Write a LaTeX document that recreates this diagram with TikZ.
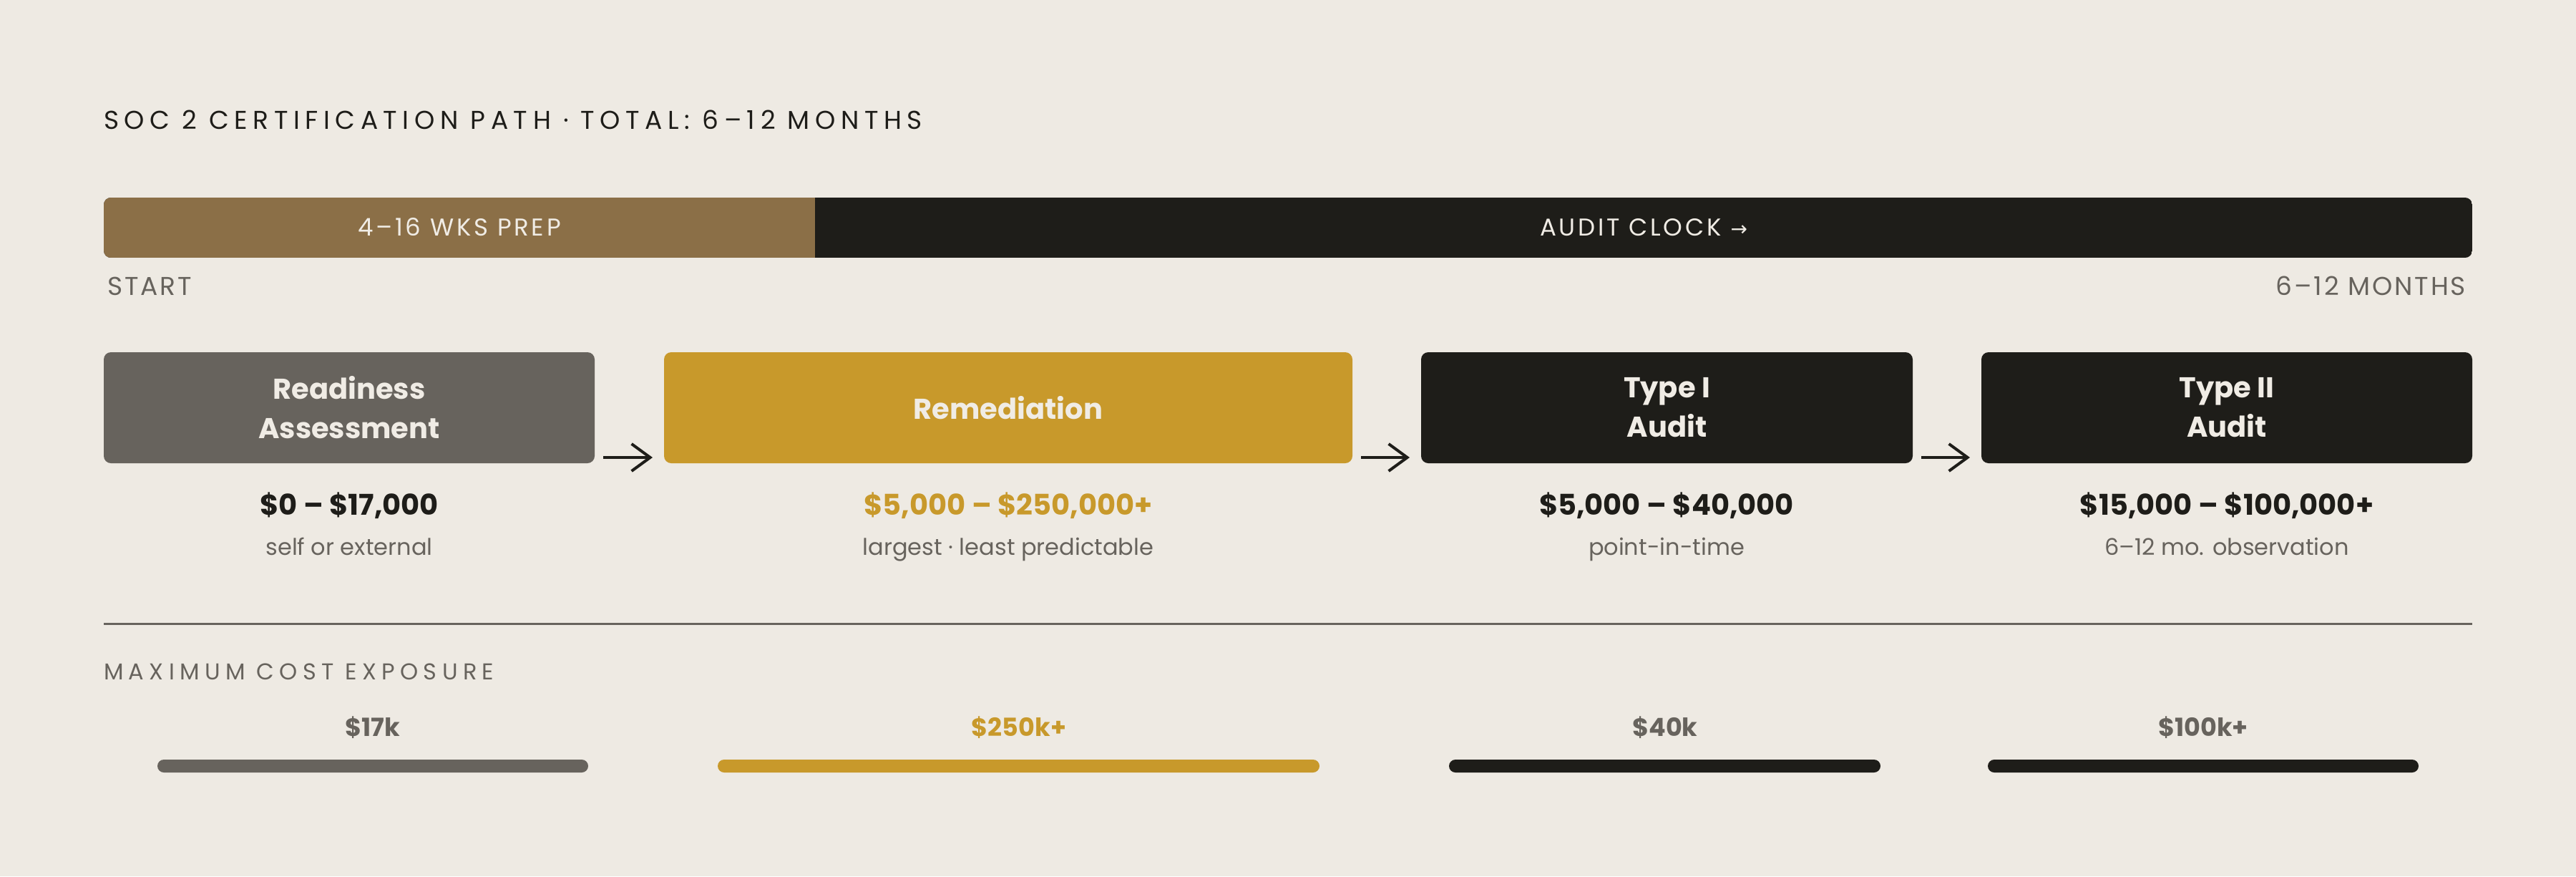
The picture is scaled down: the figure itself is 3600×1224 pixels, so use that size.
\documentclass[tikz,border=0pt]{standalone}
\usepackage{fontspec}
\setmainfont{Poppins}
\newfontfamily\trackA[LetterSpace=21]{Poppins}
\newfontfamily\trackM[LetterSpace=23]{Poppins}
\newfontfamily\trackB[LetterSpace=8]{Poppins}
\newfontfamily\trackC[LetterSpace=11]{Poppins}
\newfontfamily\symfont{DejaVu Sans}
\usetikzlibrary{arrows.meta}
\definecolor{bg}{HTML}{EEEAE3}
\definecolor{slate}{HTML}{67635D}
\definecolor{gold}{HTML}{C8992B}
\definecolor{ink}{HTML}{1E1D19}
\definecolor{prep}{HTML}{8B6F47}
\definecolor{cream}{HTML}{F0ECE5}
\tikzset{
  txt/.style={inner sep=0pt, outer sep=0pt},
  titletxt/.style={txt, anchor=base west, text=ink, font=\trackA\fontsize{36}{40}\selectfont},
  bartxt/.style={txt, anchor=base, text=cream, font=\trackC\fontsize{34}{40}\selectfont},
  axistxt/.style={txt, text=slate, font=\trackB\fontsize{36}{40}\selectfont},
  stagebox/.style={txt, anchor=north west, rounded corners=10pt, minimum height=155pt,
     text=cream, align=center, font=\bfseries\fontsize{40}{55}\selectfont},
  price/.style={txt, anchor=base, font=\bfseries\fontsize{40}{48}\selectfont},
  sub/.style={txt, anchor=base, text=slate, font=\fontsize{32}{40}\selectfont},
  maxlbl/.style={txt, anchor=base, text=slate, font=\bfseries\fontsize{35}{40}\selectfont},
  flow/.style={draw=ink, line width=4pt, -{Straight Barb[length=26pt,width=38pt,line width=4pt]}},
}
\begin{document}
\begin{tikzpicture}[x=1pt,y=-1pt]
\useasboundingbox (0,0) rectangle (3600,1224);
\fill[bg] (0,0) rectangle (3600,1224);

% title
\node[titletxt] (title) at (145,180) {SOC 2 CERTIFICATION PATH · TOTAL: 6–12 MONTHS};

% timeline bar
\begin{scope}
\clip[rounded corners=10pt] (145,276) rectangle (3455,360);
\fill[ink] (145,276) rectangle (3455,360);
\fill[prep] (145,276) rectangle (1139,360);
\end{scope}
\node[bartxt] (preptxt) at (642,329) {4–16 WKS PREP};
\node[bartxt] (audittxt) at (2297,329) {AUDIT CLOCK {\symfont\fontsize{28}{30}\selectfont →}};
\node[axistxt, anchor=base west] (start) at (150,412) {START};
\node[axistxt, anchor=base east] (end) at (3446,412) {6–12 MONTHS};

% stage boxes
\node[stagebox, fill=slate, minimum width=686pt] (b1) at (145,492) {Readiness\\Assessment};
\node[stagebox, fill=gold, minimum width=962pt] (b2) at (928,492) {Remediation};
\node[stagebox, fill=ink, minimum width=687pt] (b3) at (1986,492) {Type I\\Audit};
\node[stagebox, fill=ink, minimum width=686pt] (b4) at (2769,492) {Type II\\Audit};

\draw[flow] ([xshift=12pt,yshift=8pt]b1.south east) -- ([xshift=-16pt,yshift=8pt]b2.south west);
\draw[flow] ([xshift=12pt,yshift=8pt]b2.south east) -- ([xshift=-16pt,yshift=8pt]b3.south west);
\draw[flow] ([xshift=12pt,yshift=8pt]b3.south east) -- ([xshift=-16pt,yshift=8pt]b4.south west);

% prices
\node[price, text=ink] (p1) at (488,719) {\$0 – \$17,000};
\node[price, text=gold] (p2) at (1409,719) {\$5,000 – \$250,000+};
\node[price, text=ink] (p3) at (2329,719) {\$5,000 – \$40,000};
\node[price, text=ink] (p4) at (3112,719) {\$15,000 – \$100,000+};

\node[sub] (s1) at (488,775) {self or external};
\node[sub] (s2) at (1409,775) {largest · least predictable};
\node[sub] (s3) at (2329,775) {point-in-time};
\node[sub] (s4) at (3112,775) {6–12 mo. observation};

% separator
\draw[slate, line width=3pt] (145,871) -- (3455,871);

\node[txt, text=slate, anchor=base west, font=\trackM\fontsize{32}{40}\selectfont] (maxhead) at (145,949) {MAXIMUM COST EXPOSURE};

% exposure bars
\fill[slate, rounded corners=9pt] (220,1061) rectangle (822,1079);
\fill[gold, rounded corners=9pt] (1003,1061) rectangle (1844,1079);
\fill[ink, rounded corners=9pt] (2025,1061) rectangle (2628,1079);
\fill[ink, rounded corners=9pt] (2778,1061) rectangle (3380,1079);

\node[maxlbl] (m1) at (521,1028) {\$17k};
\node[maxlbl, text=gold] (m2) at (1424,1028) {\$250k+};
\node[maxlbl] (m3) at (2327,1028) {\$40k};
\node[maxlbl] (m4) at (3079,1028) {\$100k+};
\end{tikzpicture}
\end{document}
